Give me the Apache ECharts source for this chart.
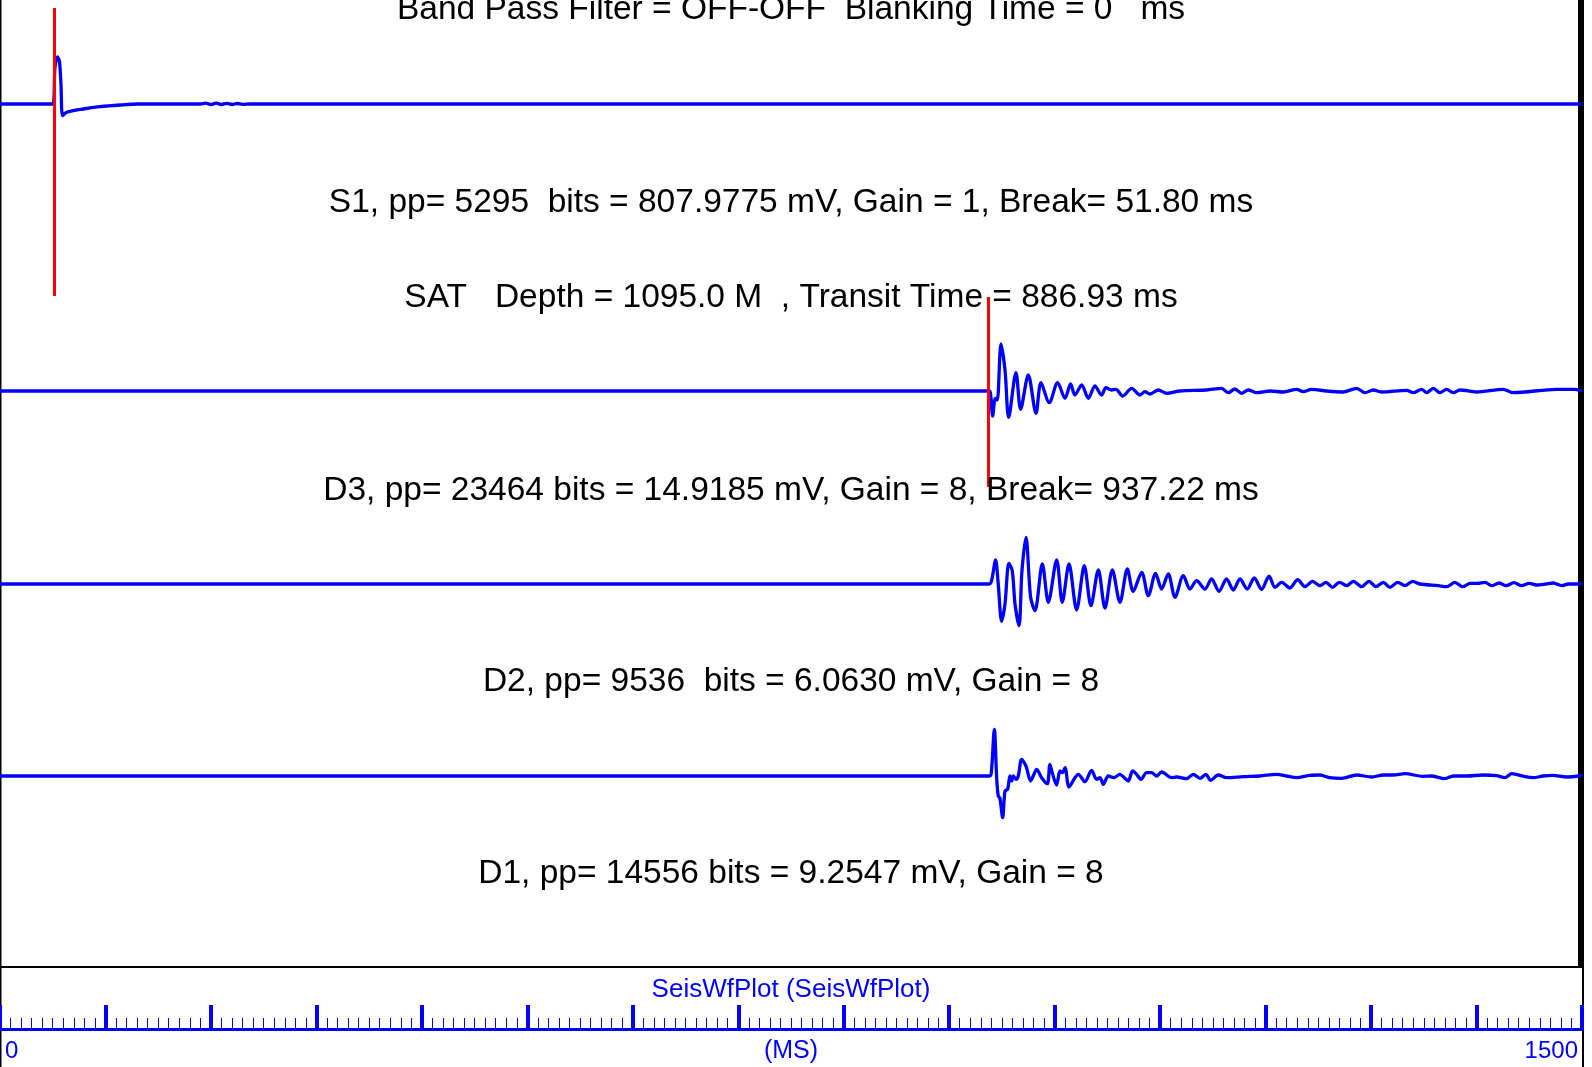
<!DOCTYPE html>
<html>
<head>
<meta charset="utf-8">
<script src="https://cdn.jsdelivr.net/npm/echarts@6/dist/echarts.min.js"></script>
<style>
  html, body { margin: 0; padding: 0; background: #fff; }
  #main { width: 1592px; height: 1067px; }
</style>
</head>
<body>
<div id="main"></div>
<script>
// time axis (ms)
const timeMin = 0;
const timeMax = 1500;
const timeStep = 100;
const tickLabels = ['0', '1500'];

// first-break picks (ms)
const s1Break = 51.8;
const d3Break = 937.22;

// waveform samples [time ms, amplitude]
const s1Trace = [[0, 0], [50.0, 0], [52.1, 36.7], [54.4, 47], [56.3, 43], [57.8, 20], [59.4, -11.7], [63.2, -8.3],
  [79, -5], [94.8, -2.7], [113.8, -1], [131, 0], [190, 0], [195, 0.8], [200, -0.5], [205, 0.8], [210, -0.5],
  [215, 0.6], [220, -0.5], [225, 0.5], [230, -0.4], [237, 0], [1500, 0]];

const d3Trace = [[0, 0], [938.0, 0], [939.5, -5.7], [941.2, -25], [943.7, -7.3], [945.6, -9], [949.1, 47], [952.9, 21],
  [956.4, -26.3], [963.3, 18.3], [967.7, -18.3], [975.0, 16], [982.3, -22.3], [987.0, 8.3], [994.9, -11.7],
  [1002.8, 8.3], [1009.8, -7.3], [1015.1, 7], [1019.2, -4], [1025.6, 6], [1031.9, -7.3], [1038.2, 5], [1044.5, -4],
  [1048.6, 3.3], [1054.0, 1], [1058.1, 1.7], [1064.5, -5], [1073.0, 2.7], [1080.9, -4], [1085.6, -0.7], [1090.4, -3],
  [1098.3, 1], [1106.2, -2.3], [1118.8, 0], [1144.0, 1], [1158.3, 2.7], [1164.6, -1.7], [1170.9, 2], [1177.3, -2.3],
  [1183.6, 1], [1191.5, -1.7], [1204.1, 0], [1216.8, -1], [1229.4, 1.7], [1235.7, -0.7], [1243.6, 1.7], [1257.8, 0],
  [1273.5, -1], [1286.3, 2.7], [1294.2, -1.7], [1302.1, 1], [1310.0, -1], [1333.7, 0.7], [1340.0, -1.7], [1347.9, 1.7],
  [1352.7, -1.7], [1359.0, 2.7], [1365.3, -1.7], [1371.6, 1.7], [1377.9, -1.7], [1384.3, 1], [1400.1, -1],
  [1425.4, 1.7], [1434.8, -1.7], [1476.0, 1.7], [1493.3, 1.7], [1500, 0]];

const d2Trace = [[0, 0], [938, 0], [940.2, 3.3], [944, 24], [946.5, 0], [949.7, -37.3], [952.9, -20], [956.6, 20.7],
  [959.8, 13.3], [962.4, -20], [966.2, -41.7], [969, 13.3], [972.8, 46.7], [977.2, -13.3], [981.3, -26.7], [988.3, 20],
  [994, -18.3], [1001.9, 24], [1007.2, -18.3], [1013.6, 20], [1020.8, -26], [1028.1, 18.3], [1034.4, -21.7],
  [1041.4, 14], [1047.7, -24], [1054.7, 14], [1061.9, -18.3], [1068.9, 15], [1074.5, -7.3], [1082.5, 11.7],
  [1088.8, -11.7], [1095.7, 10.7], [1101.4, -5], [1107.7, 10], [1114.1, -13.3], [1122, 8.3], [1128.3, -5],
  [1134.6, 3.3], [1142.5, -5], [1148.8, 5], [1155.8, -7.3], [1163, 5], [1169.4, -6], [1175.7, 5], [1182.6, -5],
  [1189.3, 6], [1196.2, -5.5], [1203.3, 7.8], [1208.9, -3.3], [1215.2, 1.7], [1223.1, -4], [1230.4, 4.3],
  [1237.3, -2.7], [1244.6, 2.7], [1251.5, -1.7], [1257.2, 1.7], [1263.5, -3.3], [1269.9, 1.7], [1276.8, -1.7],
  [1283.1, 2.7], [1291.1, -2.7], [1298, 2.7], [1304.6, -2.7], [1311.6, 1.7], [1317.9, -3.3], [1325.2, 1.7],
  [1332.1, -1.7], [1339.4, 2.7], [1346.4, 0], [1363.7, -1.7], [1371.6, -2.7], [1379.5, 1.7], [1386.8, -2.7],
  [1394, 0.7], [1401, 0.7], [1408, 1.7], [1414.3, -1.7], [1421.6, 1], [1427.9, -1.7], [1435.5, 1.3], [1442.7, -1.7],
  [1450, 0.7], [1456.9, -1], [1465.8, 0], [1472.7, 1], [1480.7, -1.7], [1487, 0], [1496, 0], [1500, 1.7]];

const d1Trace = [[0, 0], [938.7, 0], [940.2, 6.7], [942.8, 46.7], [945, -1.7], [946.5, -20], [948.1, -22.3],
  [950.7, -41.7], [952.9, -15], [955.4, -13.3], [957.6, 0], [959.2, -5], [960.8, 0], [963.3, -3.3], [965.5, 0],
  [968.7, 16.7], [972.8, 10], [977.2, -5], [980.4, 1.7], [982.9, 6.7], [987.6, -1.7], [993, -7.7], [995.5, 11.7],
  [998.1, 1.7], [1001.8, -9], [1005, 5], [1007.3, 3.3], [1009.8, 8.3], [1013.6, -11], [1019.2, -1.7], [1022.4, 1.7],
  [1028.7, -5.7], [1035, 5.7], [1039.8, -3.3], [1043, -1.7], [1046.1, -8.3], [1050.8, 0], [1056, -1.7],
  [1061.9, 1.7], [1066, -1.7], [1069.8, -5], [1073.9, 5], [1077.7, 1.7], [1081.8, -3.3], [1087.2, 3.3], [1092, 3.3],
  [1096.5, 0], [1101.4, 4], [1110.9, -1.7], [1115.6, -1], [1125.1, -2.7], [1131.4, 1.7], [1137.8, -2.3],
  [1143.4, 1.7], [1147.9, -4.3], [1155.1, 1], [1163, -1.7], [1178.9, -0.7], [1194.7, 0], [1210.4, 1.7], [1220, 0],
  [1229.4, -1.7], [1242, 0.7], [1251.5, 1], [1261, -1.7], [1272.1, -2.3], [1286.3, 1], [1300.5, -1], [1311.6, 1],
  [1321, 1], [1332.1, 2.3], [1349, -0.3], [1357, 0], [1370, -2.7], [1378, 0], [1391, 0], [1406.4, 1], [1419, 0.3],
  [1426.9, -1.7], [1433.3, 2.3], [1446, -0.7], [1453.8, -1.7], [1463, 0], [1472, 0.7], [1485.4, -1], [1497, 0],
  [1500, 1.7]];

// header / trace annotations
const headerText = 'Band Pass Filter = OFF-OFF  Blanking Time = 0   ms';
const s1Text = 'S1, pp= 5295  bits = 807.9775 mV, Gain = 1, Break= 51.80 ms';
const satText = 'SAT   Depth = 1095.0 M  , Transit Time = 886.93 ms';
const d3Text = 'D3, pp= 23464 bits = 14.9185 mV, Gain = 8, Break= 937.22 ms';
const d2Text = 'D2, pp= 9536  bits = 6.0630 mV, Gain = 8';
const d1Text = 'D1, pp= 14556 bits = 9.2547 mV, Gain = 8';
const plotName = 'SeisWfPlot (SeisWfPlot)';
const axisName = '(MS)';

const FONT = '"Liberation Sans", Arial, sans-serif';
const BLUE = '#0000ff';

const myChart = echarts.init(document.getElementById('main'));

// one grid per trace, y range in drawing units around the zero line
const traceGrids = [
  { top: 8, height: 288, min: -192, max: 96 },
  { top: 297, height: 190, min: -96, max: 94 },
  { top: 489, height: 190, min: -95, max: 95 },
  { top: 681, height: 190, min: -95, max: 95 }
];

const grid = traceGrids.map(g => ({ left: 0, right: 10, top: g.top, height: g.height, outerBoundsMode: 'none' }));
grid.push({ left: 0, right: 10, top: 990, height: 39, outerBoundsMode: 'none', containLabel: false });

const xAxis = traceGrids.map((g, i) => ({
  type: 'value', gridIndex: i, min: timeMin, max: timeMax, show: false
}));
xAxis.push({
  type: 'value',
  gridIndex: 4,
  min: timeMin,
  max: timeMax,
  interval: timeStep,
  axisLine: { lineStyle: { color: BLUE, width: 3 } },
  axisTick: { inside: true, length: 24, lineStyle: { color: BLUE, width: 4 } },
  minorTick: { show: true, splitNumber: 10, length: 11, lineStyle: { color: BLUE, width: 1 } },
  splitLine: { show: false },
  axisLabel: {
    color: BLUE,
    fontSize: 24,
    fontFamily: FONT,
    margin: 10,
    padding: [0, 4, 0, 5],
    alignMinLabel: 'left',
    alignMaxLabel: 'right',
    formatter: v => (tickLabels.indexOf(String(v)) >= 0 ? String(v) : '')
  }
});

const yAxis = traceGrids.map((g, i) => ({
  type: 'value', gridIndex: i, min: g.min, max: g.max, show: false
}));
yAxis.push({ type: 'value', gridIndex: 4, min: 0, max: 1, show: false });

const breakLine = (t) => ({
  silent: true,
  symbol: ['none', 'none'],
  label: { show: false },
  lineStyle: { color: '#ff0000', width: 3, type: 'solid' },
  data: [{ xAxis: t }]
});

const traceSeries = (data, idx, mark) => ({
  type: 'line',
  xAxisIndex: idx,
  yAxisIndex: idx,
  data: data,
  showSymbol: false,
  symbol: 'none',
  smooth: 0.3,
  lineStyle: { color: BLUE, width: 3.3 },
  markLine: mark,
  z: 3
});

const label = (text, y, size, color) => ({
  type: 'text',
  x: 791,
  y: y,
  z: 10,
  style: {
    text: text,
    fill: color || '#000',
    font: size + 'px ' + FONT,
    textAlign: 'center',
    textVerticalAlign: 'middle'
  }
});

myChart.setOption({
  animation: false,
  backgroundColor: '#fff',
  grid: grid,
  xAxis: xAxis,
  yAxis: yAxis,
  series: [
    traceSeries(s1Trace, 0, breakLine(s1Break)),
    traceSeries(d3Trace, 1, breakLine(d3Break)),
    traceSeries(d2Trace, 2),
    traceSeries(d1Trace, 3),
    { type: 'line', xAxisIndex: 4, yAxisIndex: 4, data: [] }
  ],
  graphic: [
    // frame
    { type: 'rect', z: 0, shape: { x: 0, y: 0, width: 1.5, height: 1067 }, style: { fill: '#000' } },
    { type: 'rect', z: 0, shape: { x: 0, y: 966, width: 1584, height: 2 }, style: { fill: '#000' } },
    { type: 'rect', z: 0, shape: { x: 1578, y: 0, width: 6, height: 967 }, style: { fill: '#000' } },
    { type: 'rect', z: 0, shape: { x: 1582, y: 967, width: 2, height: 100 }, style: { fill: '#000' } },
    label(headerText, 10, 33.5),
    label(s1Text, 203, 33.5),
    label(satText, 298, 33.5),
    label(d3Text, 491, 33.5),
    label(d2Text, 682, 33.5),
    label(d1Text, 874, 33.5),
    label(plotName, 990, 26, BLUE),
    label(axisName, 1051, 25, BLUE)
  ]
});
</script>
</body>
</html>
